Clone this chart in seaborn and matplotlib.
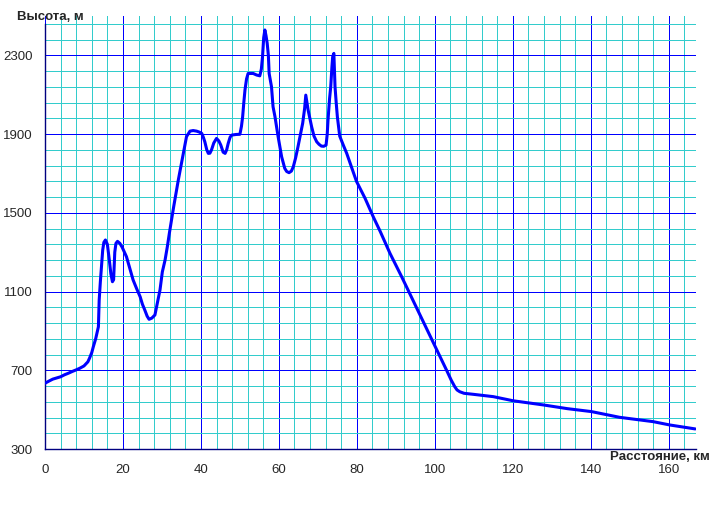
import pandas as pd
import numpy as np
import seaborn as sns
import matplotlib.pyplot as plt
from matplotlib.ticker import MultipleLocator, FixedLocator

# Elevation profile
dist_km = [0, 1, 2, 3, 4, 5, 6, 7, 8, 9, 10, 11, 11.5, 12, 12.4, 13.0, 13.7, 13.9,
           14.2, 14.5, 14.8, 15.1, 15.5, 16.0, 16.5, 16.9, 17.3, 17.6, 17.9, 18.2,
           18.6, 19.2, 19.8, 20.9, 21.8, 22.6, 23.5, 24.4, 25.0, 25.6, 26.2, 26.7,
           27.4, 28.2, 28.8, 29.5, 30.1, 30.8, 31.4, 31.9, 33.0, 34.2, 35.0, 35.5,
           36.3, 37.2, 38.0, 38.9, 39.6, 40.2, 40.6, 41.0, 41.5, 41.9, 42.3, 42.7,
           43.3, 44.0, 44.6, 45.1, 45.7, 46.2, 46.6, 47.0, 47.5, 47.9, 49.0, 50.0,
           50.4, 50.7, 51.0, 51.3, 51.7, 52.1, 53.4, 54.3, 55.1, 55.5, 55.8, 56.1,
           56.4, 56.7, 57.0, 57.3, 57.5, 58.1, 58.5, 59.0, 59.8, 60.7, 61.5, 62.0,
           62.6, 63.2, 63.7, 64.3, 64.9, 65.5, 66.1, 66.6, 66.9, 67.2, 67.5, 68.0,
           68.4, 69.0, 69.7, 70.3, 70.9, 71.5, 72.1, 72.4, 72.6, 73.0, 73.3, 73.6,
           73.8, 74.1, 74.3, 74.4, 74.7, 75.0, 75.6, 76.5, 77.4, 78.5, 79.9, 82.1,
           84.2, 86.0, 88.5, 91.5, 94.5, 97.9, 100.3, 103.0, 104.2, 105.1, 105.7,
           106.4, 107.5, 109.8, 115.0, 120.1, 127.8, 134.0, 140.2, 147.4, 156.0,
           160.3, 166.8]
elev_m = [634, 645, 655, 661, 667, 677, 685, 694, 702, 711, 722, 743, 765, 790, 820,
          860, 921, 1057, 1150, 1230, 1310, 1350, 1362, 1340, 1260, 1190, 1150, 1160,
          1300, 1345, 1355, 1345, 1325, 1277, 1215, 1159, 1115, 1074, 1035, 1006, 975,
          959, 965, 981, 1040, 1108, 1200, 1260, 1330, 1396, 1530, 1667, 1750, 1802,
          1887, 1915, 1918, 1915, 1910, 1904, 1885, 1861, 1820, 1802, 1803, 1819,
          1855, 1878, 1865, 1844, 1808, 1802, 1820, 1853, 1885, 1895, 1898, 1899,
          1940, 1988, 2060, 2124, 2180, 2208, 2208, 2200, 2196, 2230, 2293, 2390,
          2429, 2400, 2361, 2300, 2208, 2141, 2039, 1988, 1887, 1785, 1726, 1710,
          1704, 1712, 1734, 1780, 1836, 1895, 1955, 2030, 2098, 2060, 2022, 1975,
          1937, 1890, 1861, 1848, 1839, 1838, 1844, 1900, 1971, 2080, 2141, 2240,
          2293, 2310, 2200, 2141, 2060, 1988, 1890, 1845, 1802, 1740, 1660, 1574,
          1480, 1405, 1294, 1175, 1051, 911, 812, 701, 650, 617, 600,
          591, 583, 578, 566, 545, 524, 505, 490, 461, 439,
          422, 402]

x_major = [0, 20, 40, 60, 80, 100, 120, 140, 160]
y_major = [300, 700, 1100, 1500, 1900, 2300]

df = pd.DataFrame({'dist': dist_km, 'elev': elev_m})

sns.set_style("white")
plt.rcParams['font.family'] = ['Liberation Sans', 'DejaVu Sans']

fig = plt.figure(figsize=(7.19, 5.25), dpi=100)
ax = fig.add_axes([45 / 719, 76 / 525, 651 / 719, 433 / 525])

sns.lineplot(data=df, x='dist', y='elev', sort=False, estimator=None,
             color='#0000FF', linewidth=2.2, ax=ax, zorder=5)

ax.set_xlim(0, 167)
ax.set_ylim(300, 2500)
ax.set_xticks(x_major)
ax.set_yticks(y_major)
ax.xaxis.set_minor_locator(MultipleLocator(4))
ax.yaxis.set_minor_locator(FixedLocator(np.arange(300, 2500, 80)))

# grid: cyan minor, blue major, crisp 1px lines
ax.grid(which='minor', color='#33CCCC', linewidth=0.72, antialiased=False)
ax.grid(which='major', color='#0000FF', linewidth=0.72, antialiased=False)
ax.set_axisbelow(True)

for s in ['top', 'right']:
    ax.spines[s].set_visible(False)
for s in ['left', 'bottom']:
    ax.spines[s].set_color('#000080')
    ax.spines[s].set_linewidth(1.0)
ax.spines['left'].set_bounds(300, 2460)

ax.tick_params(which='both', direction='in', color='#000080', length=2.5, width=0.8)
ax.tick_params(axis='y', labelsize=9.5, pad=9)
ax.tick_params(axis='x', labelsize=9.5, pad=11)

ax.set_xlabel('')
ax.set_ylabel('')

fig.text(17 / 719, 1 - 17 / 525, 'Высота, м', fontsize=9.5, fontweight='bold',
         ha='left', va='center')
fig.text(710 / 719, 1 - 457 / 525, 'Расстояние, км', fontsize=9.5, fontweight='bold',
         ha='right', va='center')

fig.savefig('out.png', dpi=100)
